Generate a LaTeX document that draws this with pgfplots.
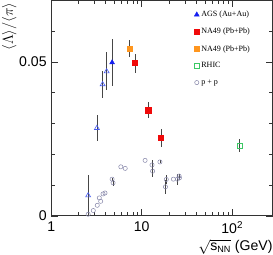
\documentclass[border=0pt]{standalone}
\usepackage{fontspec}
\setmainfont{Liberation Sans}
\newfontfamily\legfont{Liberation Serif}
\usepackage{pgfplots}
\pgfplotsset{compat=1.18}
\definecolor{agsblue}{RGB}{20,30,240}
\definecolor{opentri}{RGB}{70,90,240}
\definecolor{na49red}{RGB}{240,10,10}
\definecolor{na49orange}{RGB}{255,150,30}
\definecolor{rhicgreen}{RGB}{60,200,100}
\definecolor{ppgray}{RGB}{135,135,170}
\definecolor{errgray}{RGB}{70,70,70}
\begin{document}
\begin{tikzpicture}
\begin{axis}[
  scale only axis,
  width=220pt, height=214pt,
  xmode=log,
  xmin=1, xmax=280,
  ymin=0, ymax=0.07,
  scaled y ticks=false,
  xtick={1,10,100},
  xticklabels={1,10,{10\textsuperscript{2}}},
  ytick={0,0.05},
  yticklabels={0,0.05},
  minor ytick={0.01,0.02,0.03,0.04,0.06},
  tick label style={font=\fontsize{14}{16}\selectfont},
  major tick length=7pt,
  minor tick length=4pt,
  axis line style={line width=0.6pt, black!80},
  every tick/.style={black!80, line width=0.5pt},
  xticklabel style={yshift=-2pt},
  yticklabel style={xshift=-1pt},
  xlabel={$\sqrt{\hbox{s}_{\hbox{\fontsize{9}{9}\selectfont NN}}}$ (GeV)},
  xlabel style={at={(axis description cs:1,-0.11)}, anchor=north east, font=\fontsize{14}{16}\selectfont, inner sep=0pt},
  ylabel={$\langle\Lambda\rangle/\langle\pi\rangle$},
  ylabel style={at={(axis description cs:-0.232,1)}, anchor=north east, font=\fontsize{15}{17}\selectfont, inner sep=2pt},
  legend style={draw=none, fill=none, at={(axis description cs:0.645,0.96)}, anchor=north west,
    font=\legfont\fontsize{8}{9.5}\selectfont, row sep=6pt, inner sep=0pt},
  legend cell align=left,
  legend image code/.code={\draw[mark repeat=2,mark phase=2,#1] plot coordinates {(0cm,0cm) (0.15cm,0cm) (0.3cm,0cm)};},
  error bars/y dir=both,
  error bars/y explicit,
  error bars/error mark=none,
  error bars/error bar style={errgray, line width=0.5pt},
]
% AGS filled
\addplot[only marks, mark=triangle*, mark size=2.8pt, color=agsblue]
  table[x=x,y=y,y error=ey] {
x y ey
4.71 0.0498 0.0076
};
\addlegendentry{AGS (Au+Au)}
% NA49 red
\addplot[only marks, mark=square*, mark size=2.5pt, color=na49red]
  table[x=x,y=y,y error=ey] {
x y ey
8.43 0.0496 0.0031
11.8 0.0343 0.0025
16.4 0.0253 0.0030
};
\addlegendentry{NA49 (Pb+Pb)}
% NA49 orange
\addplot[only marks, mark=square*, mark size=2.5pt, color=na49orange]
  table[x=x,y=y,y error=ey] {
x y ey
7.35 0.0544 0.0027
};
\addlegendentry{NA49 (Pb+Pb)}
% RHIC
\addplot[only marks, mark=square, mark size=2.3pt, color=rhicgreen, mark options={line width=0.6pt}]
  table[x=x,y=y,y error=ey] {
x y ey
120.7 0.0228 0.0020
};
\addlegendentry{RHIC}
% p+p
\addplot[only marks, mark=o, mark size=2.1pt, color=ppgray, mark options={line width=0.5pt}]
  table[x=x,y=y,y error=ey] {
x y ey
2.56 0.0005 0
2.92 0.0017 0
3.23 0.0034 0
3.40 0.0058 0
3.52 0.0047 0
3.74 0.0071 0
3.93 0.0074 0
4.71 0.0119 0.0005
4.83 0.0107 0.0010
5.88 0.0159 0
6.57 0.0154 0
10.9 0.0180 0
13.0 0.0165 0.0016
13.2 0.0145 0.0018
15.9 0.0175 0.0005
18.7 0.0118 0.0016
18.3 0.0094 0.0022
22.4 0.0119 0
24.8 0.0119 0.0018
25.9 0.0129 0.0006
26.1 0.0123 0.0006
};
\addlegendentry{p + p}
% AGS open triangles
\addplot[only marks, mark=triangle, mark size=2.8pt, color=opentri, mark options={line width=0.6pt}, forget plot]
  table[x=x,y=y,y error=ey] {
x y ey
2.56 0.0066 0.0068
3.20 0.0285 0.0041
3.70 0.0427 0.0044
4.10 0.0469 0.0062
};
\end{axis}
\end{tikzpicture}
\end{document}
